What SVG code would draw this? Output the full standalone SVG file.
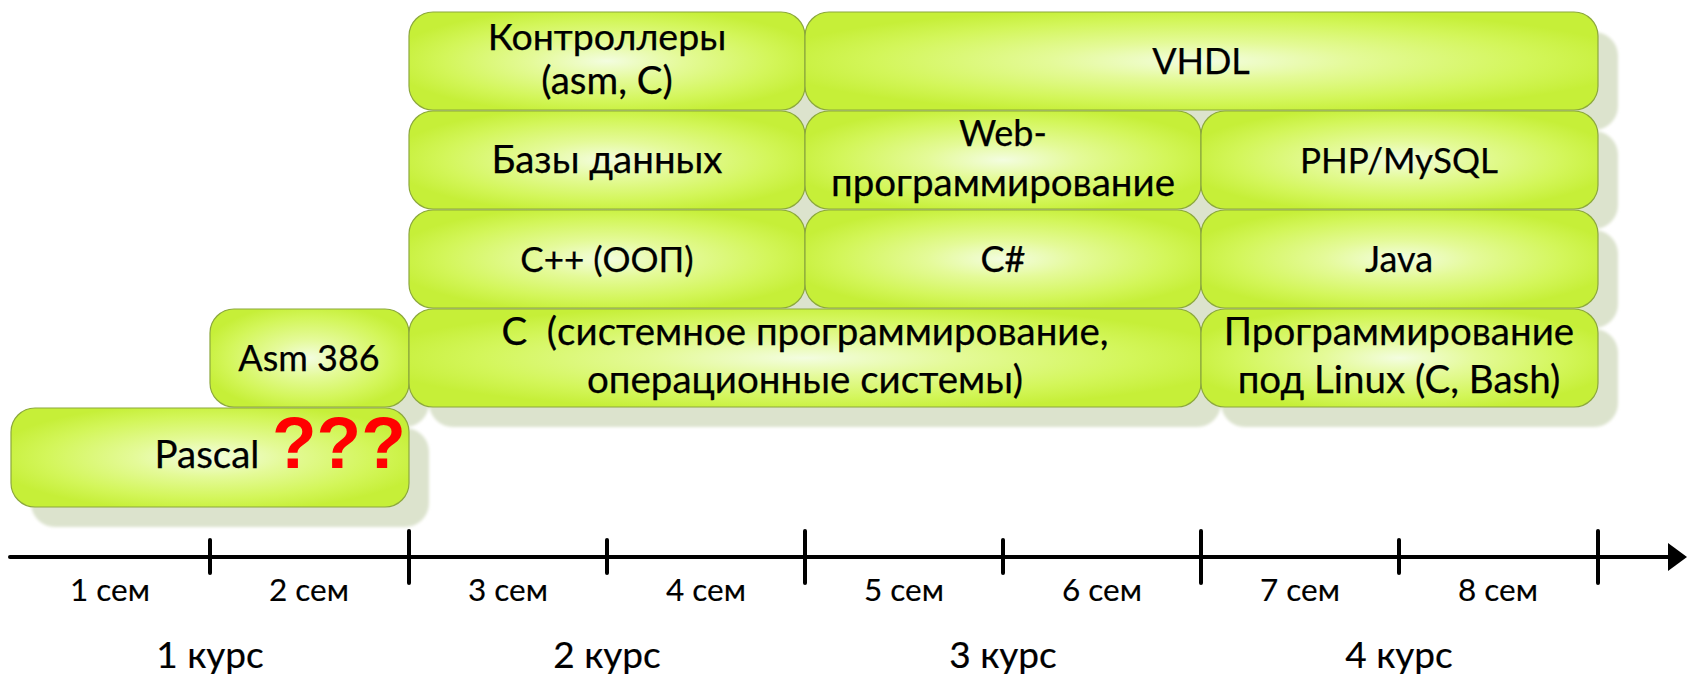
<svg xmlns="http://www.w3.org/2000/svg" width="1687" height="675" viewBox="0 0 1687 675">
  <style>
    .box { fill: url(#lime); stroke: #8ca83c; stroke-width: 1.2; }
    .shadow { fill: #dce3cd; }
    .t { font-family: Lato, "Noto Sans", sans-serif; font-size: 38.5px; fill: #000; stroke: #000; stroke-width: 0.25; text-anchor: middle; }
    .lat { font-size: 36px; }
    .sem { font-family: Lato, "Noto Sans", sans-serif; font-size: 31.5px; fill: #000; stroke: #000; stroke-width: 0.15; text-anchor: middle; }
    .year { font-family: Lato, "Noto Sans", sans-serif; font-size: 37px; fill: #000; stroke: #000; stroke-width: 0.2; text-anchor: middle; }
    .q { font-family: "Liberation Sans", Arial, sans-serif; font-weight: bold; font-size: 73px; fill: #ff0000; }
    .axis { stroke: #000; stroke-width: 4; stroke-linecap: round; fill: none; }
  </style>
  <defs>
    <radialGradient id="lime" cx="50%" cy="50%" r="55%">
      <stop offset="0" stop-color="#f3fde0"/>
      <stop offset="0.35" stop-color="#e4fa98"/>
      <stop offset="0.75" stop-color="#d3f65a"/>
      <stop offset="1" stop-color="#c6ef38"/>
    </radialGradient>
    <filter id="soft" x="-5%" y="-5%" width="110%" height="110%">
      <feGaussianBlur stdDeviation="1.5"/>
    </filter>
  </defs>

  <rect width="1687" height="675" fill="#ffffff"/>

  <!-- drop shadows, offset down and to the right -->
  <g id="shadows" class="shadow" filter="url(#soft)" transform="translate(20,20)">
    <rect x="11" y="408" width="398" height="99" rx="24"/>
    <rect x="210" y="309" width="199" height="98" rx="24"/>
    <rect x="409" y="309" width="792" height="98" rx="24"/>
    <rect x="1201" y="309" width="397" height="98" rx="24"/>
    <rect x="409" y="210" width="396" height="98" rx="24"/>
    <rect x="805" y="210" width="396" height="98" rx="24"/>
    <rect x="1201" y="210" width="397" height="98" rx="24"/>
    <rect x="409" y="111" width="396" height="98" rx="24"/>
    <rect x="805" y="111" width="396" height="98" rx="24"/>
    <rect x="1201" y="111" width="397" height="98" rx="24"/>
    <rect x="409" y="12" width="396" height="98" rx="24"/>
    <rect x="805" y="12" width="793" height="98" rx="24"/>
  </g>

  <g id="pascal">
    <rect class="box" x="11" y="408" width="398" height="99" rx="24"/>
    <text class="t" x="207" y="468">Pascal</text>
    <text class="q" x="272" y="468">???</text>
  </g>
  <g id="asm386">
    <rect class="box" x="210" y="309" width="199" height="98" rx="24"/>
    <text class="t lat" x="309" y="371">Asm 386</text>
  </g>
  <g id="c-system">
    <rect class="box" x="409" y="309" width="792" height="98" rx="24"/>
    <text class="t" x="805" y="345">C&#160; (системное программирование,</text>
    <text class="t" x="805" y="393">операционные системы)</text>
  </g>
  <g id="linux">
    <rect class="box" x="1201" y="309" width="397" height="98" rx="24"/>
    <text class="t" x="1399" y="345">Программирование</text>
    <text class="t" x="1399" y="393">под Linux (C, Bash)</text>
  </g>
  <g id="cpp">
    <rect class="box" x="409" y="210" width="396" height="98" rx="24"/>
    <text class="t" x="607" y="272" style="font-size:35px">C++ (ООП)</text>
  </g>
  <g id="csharp">
    <rect class="box" x="805" y="210" width="396" height="98" rx="24"/>
    <text class="t lat" x="1003" y="272">C#</text>
  </g>
  <g id="java">
    <rect class="box" x="1201" y="210" width="397" height="98" rx="24"/>
    <text class="t lat" x="1399" y="272">Java</text>
  </g>
  <g id="databases">
    <rect class="box" x="409" y="111" width="396" height="98" rx="24"/>
    <text class="t" x="607" y="173">Базы данных</text>
  </g>
  <g id="web">
    <rect class="box" x="805" y="111" width="396" height="98" rx="24"/>
    <text class="t lat" x="1003" y="146">Web-</text>
    <text class="t" x="1003" y="196">программирование</text>
  </g>
  <g id="php">
    <rect class="box" x="1201" y="111" width="397" height="98" rx="24"/>
    <text class="t lat" x="1399" y="173" style="font-size:35px">PHP/MySQL</text>
  </g>
  <g id="controllers">
    <rect class="box" x="409" y="12" width="396" height="98" rx="24"/>
    <text class="t" x="607" y="50" style="font-size:37.5px">Контроллеры</text>
    <text class="t" x="607" y="94">(asm, C)</text>
  </g>
  <g id="vhdl">
    <rect class="box" x="805" y="12" width="793" height="98" rx="24"/>
    <text class="t lat" x="1201" y="74">VHDL</text>
  </g>

  <!-- time axis with semester ticks -->
  <g id="connectors">
    <line class="axis" x1="10" y1="557" x2="1672" y2="557"/>
    <polygon points="1668,543 1687,557 1668,571" fill="#000"/>
    <!-- semester boundaries -->
    <line class="axis" x1="210" y1="540" x2="210" y2="573"/>
    <line class="axis" x1="607" y1="540" x2="607" y2="573"/>
    <line class="axis" x1="1003" y1="540" x2="1003" y2="573"/>
    <line class="axis" x1="1399" y1="540" x2="1399" y2="573"/>
    <!-- year boundaries -->
    <line class="axis" x1="409" y1="531" x2="409" y2="583"/>
    <line class="axis" x1="805" y1="531" x2="805" y2="583"/>
    <line class="axis" x1="1201" y1="531" x2="1201" y2="583"/>
    <line class="axis" x1="1598" y1="531" x2="1598" y2="583"/>
  </g>

  <g id="semesters">
    <text class="sem" x="110" y="601">1 сем</text>
    <text class="sem" x="309" y="601">2 сем</text>
    <text class="sem" x="508" y="601">3 сем</text>
    <text class="sem" x="706" y="601">4 сем</text>
    <text class="sem" x="904" y="601">5 сем</text>
    <text class="sem" x="1102" y="601">6 сем</text>
    <text class="sem" x="1300" y="601">7 сем</text>
    <text class="sem" x="1498" y="601">8 сем</text>
  </g>
  <g id="years">
    <text class="year" x="210" y="668">1 курс</text>
    <text class="year" x="607" y="668">2 курс</text>
    <text class="year" x="1003" y="668">3 курс</text>
    <text class="year" x="1399" y="668">4 курс</text>
  </g>
</svg>
